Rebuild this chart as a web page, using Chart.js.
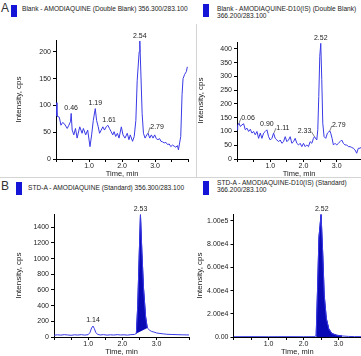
<!DOCTYPE html>
<html><head><meta charset="utf-8">
<script src="https://cdn.jsdelivr.net/npm/chart.js@4/dist/chart.umd.min.js"></script>
<style>
html,body{margin:0;padding:0;background:#fff;}
#wrap{position:relative;width:361px;height:356px;overflow:hidden;font-family:"Liberation Sans",Arial,sans-serif;color:#222;}
canvas{position:absolute;}
.t{position:absolute;font-size:6.6px;line-height:8px;white-space:nowrap;color:#222;}
.sq{position:absolute;background:#1515d8;}
.big{position:absolute;font-size:12px;color:#333;}
.sep{position:absolute;background:#d4d4d4;}
</style></head>
<body><div id="wrap">
<div class="big" style="left:1px;top:1px;">A</div>
<div class="sq" style="left:11px;top:5px;width:6px;height:12px;"></div>
<div class="t" style="left:22px;top:5px;">Blank - AMODIAQUINE (Double Blank) 356.300/283.100</div>
<div class="sq" style="left:203px;top:4px;width:6px;height:13px;"></div>
<div class="t" style="left:217px;top:5px;">Blank - AMODIAQUINE-D10(IS) (Double Blank)</div>
<div class="t" style="left:217px;top:12px;">366.200/283.100</div>
<div class="big" style="left:1px;top:179px;">B</div>
<div class="sq" style="left:16px;top:182px;width:6px;height:13px;"></div>
<div class="t" style="left:28px;top:184px;">STD-A - AMODIAQUINE (Standard) 356.300/283.100</div>
<div class="sq" style="left:203px;top:181px;width:6px;height:14px;"></div>
<div class="t" style="left:217px;top:179px;">STD-A - AMODIAQUINE-D10(IS) (Standard)</div>
<div class="t" style="left:217px;top:186px;">366.200/283.100</div>
<div class="sep" style="left:196px;top:24px;width:1px;height:154px;"></div>
<div class="sep" style="left:0px;top:177px;width:361px;height:1px;"></div>
<canvas id="c1" width="196" height="160" style="left:0;top:22px;"></canvas>
<canvas id="c2" width="165" height="160" style="left:196px;top:22px;"></canvas>
<canvas id="c3" width="196" height="160" style="left:0;top:196px;"></canvas>
<canvas id="c4" width="165" height="160" style="left:196px;top:196px;"></canvas>
</div>
<script>
// ---- Data ----
const timeA1 = [0,0.03,0.1,0.15,0.2,0.25,0.34,0.39,0.44,0.46,0.49,0.54,0.59,0.64,0.72,0.79,0.83,0.9,0.96,1.03,1.08,1.13,1.19,1.23,1.28,1.32,1.37,1.42,1.47,1.52,1.57,1.62,1.67,1.72,1.76,1.81,1.86,1.91,1.98,2.03,2.09,2.16,2.21,2.25,2.32,2.37,2.42,2.46,2.52,2.54,2.57,2.61,2.65,2.7,2.75,2.79,2.84,2.89,2.94,2.99,3.04,3.09,3.14,3.18,3.23,3.28,3.33,3.38,3.43,3.48,3.53,3.58,3.63,3.68,3.71,3.78,3.82,3.85,3.9,3.95,3.98];
const intA1 = [105,80,78,63,68,66,57,63,70,85,54,45,57,39,60,48,57,45,54,23,45,72,94,72,60,48,54,60,54,60,63,57,51,45,51,42,48,39,60,45,39,48,36,45,33,42,72,146,200,220,164,85,48,39,45,48,39,45,39,45,38,36,38,33,32,30,31,27,28,23,26,24,22,25,17,42,120,150,158,163,172];
const peaksA1 = ["0.46","1.19","1.61","2.54","2.79"];

const timeA2 = [0,0.02,0.06,0.1,0.15,0.2,0.25,0.3,0.35,0.4,0.45,0.5,0.55,0.6,0.65,0.7,0.75,0.8,0.85,0.9,0.95,1.0,1.05,1.1,1.15,1.2,1.25,1.3,1.35,1.4,1.45,1.5,1.55,1.6,1.65,1.7,1.75,1.8,1.85,1.9,1.95,2.0,2.05,2.1,2.15,2.2,2.25,2.3,2.33,2.4,2.43,2.46,2.49,2.52,2.55,2.58,2.62,2.67,2.72,2.77,2.79,2.82,2.86,2.9,2.95,3.0,3.05,3.1,3.15,3.2,3.25,3.3,3.35,3.4,3.45,3.5,3.55,3.6,3.65,3.7,3.73];
const intA2 = [106,122,130,118,124,128,106,112,100,108,94,100,88,100,75,94,75,94,100,106,81,69,75,94,75,69,63,69,57,63,81,63,69,81,57,63,75,57,51,57,45,57,45,51,45,63,57,75,81,69,106,227,373,420,288,130,81,75,94,100,102,94,75,51,57,51,57,63,69,57,51,51,45,45,42,39,33,21,39,39,42];
const peaksA2 = ["0.06","0.90","1.11","2.33","2.52","2.79"];

const timeB1 = [0,0.1,0.2,0.3,0.4,0.5,0.6,0.7,0.8,0.9,1.0,1.05,1.1,1.14,1.18,1.22,1.27,1.35,1.45,1.55,1.65,1.75,1.85,1.95,2.05,2.15,2.25,2.35,2.41,2.45,2.49,2.53,2.57,2.62,2.68,2.73,2.8,2.86,2.92,3.0,3.1,3.2,3.3,3.45,3.6,3.75,3.95];
const intB1 = [22,28,24,30,26,22,28,25,30,24,30,55,115,140,108,60,35,26,30,24,28,25,30,26,28,24,30,32,45,400,1000,1560,1100,620,260,115,86,70,64,52,45,40,35,32,30,28,26];
const peaksB1 = ["1.14","2.53"];
const areaB1 = [2.41, 2.73];

const timeB2 = [0,0.5,1.0,1.5,2.0,2.3,2.36,2.4,2.44,2.5,2.55,2.59,2.65,2.72,2.81,2.95,3.1,3.28,3.45,3.64];
const intB2 = [250,300,250,300,250,300,1000,42000,86000,105500,70000,36000,16000,7000,3000,1500,900,500,350,300];
const peaksB2 = ["2.52"];
const areaB2 = [2.36, 3.1];

const xTickLabels = ["1.0","2.0","3.0"];
const yTicksA1 = [0,50,100,150,200];
const yTicksA2 = [0,50,100,150,200,250,300,350,400];
const yTicksB1 = [0,200,400,600,800,1000,1200,1400];
const yTicksB2 = [0,20000,40000,60000,80000,100000];

// ---- Rendering ----
const LINE = '#3a3ae6';
const FILL = '#0a0ab4';
const FONT = "'Liberation Sans', Arial, sans-serif";

const peakPlugin = {
  id: 'peaks',
  afterDatasetsDraw(chart, args, opts) {
    const ds = chart.data.datasets[0].data;
    const xs = chart.scales.x, ys = chart.scales.y;
    const ctx = chart.ctx;
    ctx.save();
    ctx.font = '7px ' + FONT;
    ctx.fillStyle = '#222';
    ctx.strokeStyle = '#333';
    ctx.lineWidth = 0.6;
    ctx.textAlign = 'center';
    ctx.textBaseline = 'bottom';
    (opts.items || []).forEach((lab, i) => {
      const t = parseFloat(lab);
      let best = null;
      ds.forEach(p => { if (Math.abs(p.x - t) <= 0.05 && (!best || p.y > best.y)) best = p; });
      if (!best) return;
      const px = xs.getPixelForValue(t), py = ys.getPixelForValue(best.y);
      const dx = (opts.dx && opts.dx[i]) || 0;
      const dy = (opts.dy && opts.dy[i]) || 0;
      const tx = px + dx, ty = py - 2 + dy;
      if (dx !== 0) {
        ctx.beginPath();
        ctx.moveTo(px, py);
        ctx.lineTo(tx - Math.sign(dx) * 7, ty - 3);
        ctx.stroke();
      }
      ctx.fillText(lab, tx, ty);
    });
    ctx.restore();
  }
};

function makeChart(id, times, vals, cfg) {
  const pts = times.map((t, i) => ({x: t, y: vals[i]}));
  const datasets = [{data: pts, borderColor: LINE, borderWidth: 1, pointRadius: 0, fill: false, tension: 0, order: 0}];
  if (cfg.area) {
    const sub = pts.filter(p => p.x >= cfg.area[0] && p.x <= cfg.area[1]);
    datasets.push({data: sub, borderColor: FILL, borderWidth: 1, backgroundColor: FILL, pointRadius: 0,
      fill: cfg.areaMode, tension: 0, order: 1});
  }
  return new Chart(document.getElementById(id), {
    type: 'line',
    data: {datasets},
    plugins: [peakPlugin],
    options: {
      responsive: false, animation: false,
      layout: {padding: cfg.pad},
      plugins: {legend: {display: false}, tooltip: {enabled: false},
        peaks: {items: cfg.peaks, dx: cfg.dx, dy: cfg.dy}},
      scales: {
        x: {type: 'linear', min: 0, max: cfg.xmax,
          border: {display: true, color: '#000', width: 1},
          grid: {display: true, drawOnChartArea: false, drawTicks: true, tickLength: 3, color: '#000'},
          ticks: {stepSize: 0.5, autoSkip: false, maxRotation: 0, padding: 0, color: '#222',
            font: {family: FONT, size: 7},
            callback: v => { const s = Number(v).toFixed(1); return xTickLabels.includes(s) ? s : ''; }},
          title: {display: true, text: 'Time, min', color: '#222', font: {family: FONT, size: 7.5}, padding: {top: 0, bottom: cfg.xtPad}},
          afterFit: s => { s.height = cfg.xh; }
        },
        y: {type: 'linear', min: 0, max: cfg.ymax,
          border: {display: true, color: '#000', width: 1},
          grid: {display: true, drawOnChartArea: false, drawTicks: true, tickLength: 3, color: '#000'},
          afterBuildTicks: s => { s.ticks = cfg.yticks.map(v => ({value: v})); },
          ticks: {padding: 2, color: '#222', font: {family: FONT, size: 7}, callback: cfg.yfmt || (v => String(v))},
          title: {display: true, text: 'Intensity, cps', color: '#222', font: {family: FONT, size: 8}, padding: {top: cfg.ytPad, bottom: 0}},
          afterFit: s => { s.width = cfg.yw; }
        }
      }
    }
  });
}

makeChart('c1', timeA1, intA1, {xmax: 4.0, ymax: 222, yticks: yTicksA1, peaks: peaksA1,
  dx: [0,0,0,0,9], dy: [0,0,0,0,-1],
  pad: {left: 0, top: 18, right: 8, bottom: 0}, yw: 56, xh: 23, xtPad: 4, ytPad: 14});
makeChart('c2', timeA2, intA2, {xmax: 3.73, ymax: 425, yticks: yTicksA2, peaks: peaksA2,
  dx: [9,0,9,-10,0,9], dy: [0,0,0,0,0,0],
  pad: {left: 0, top: 20, right: 0, bottom: 0}, yw: 41, xh: 23, xtPad: 4, ytPad: 0});
makeChart('c3', timeB1, intB1, {xmax: 3.95, ymax: 1570, yticks: yTicksB1, peaks: peaksB1,
  area: areaB1, areaMode: 'shape',
  pad: {left: 0, top: 18, right: 7, bottom: 0}, yw: 54, xh: 19, xtPad: 0, ytPad: 14});
makeChart('c4', timeB2, intB2, {xmax: 3.64, ymax: 106000, yticks: yTicksB2, peaks: peaksB2,
  area: areaB2, areaMode: 'origin',
  yfmt: v => v === 0 ? '0.00' : v.toExponential(2).replace('e+', 'e'),
  pad: {left: 0, top: 18, right: 0, bottom: 0}, yw: 37.5, xh: 19, xtPad: 0, ytPad: -1});
</script>
</body></html>
